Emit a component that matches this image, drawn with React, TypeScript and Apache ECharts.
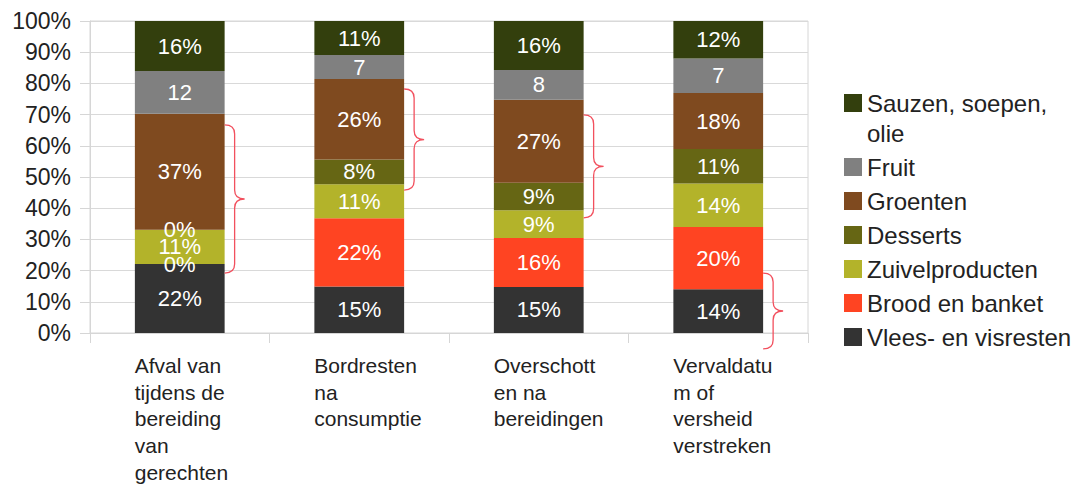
import React, { useEffect, useRef } from 'react';
import * as echarts from 'echarts';

// ---- data ----
const categories = [
  'Afval van\ntijdens de\nbereiding\nvan\ngerechten',
  'Bordresten\nna\nconsumptie',
  'Overschott\nen na\nbereidingen',
  'Vervaldatu\nm of\nversheid\nverstreken',
];
const seriesNames = [
  'Vlees- en visresten',
  'Brood en banket',
  'Zuivelproducten',
  'Desserts',
  'Groenten',
  'Fruit',
  'Sauzen, soepen,\nolie',
];
const vlees = [22, 15, 15, 14];
const brood = [0, 22, 16, 20];
const zuivel = [11, 11, 9, 14];
const desserts = [0, 8, 9, 11];
const groenten = [37, 26, 27, 18];
const fruitShare = [13.6, 7.7, 9.7, 11.1];
const fruitLabels = [12, 7, 8, 7];
const sauzen = [16, 11, 16, 12];
const seriesValues = [vlees, brood, zuivel, desserts, groenten, fruitShare, sauzen];
const colors = ['#333333', '#ff4422', '#b3b32a', '#666614', '#7f4a1f', '#808080', '#333f0d'];
// annotation braces: category index, top %, bottom %
const braceCats = [0, 1, 2, 3];
const braceTops = [66.7, 78.2, 69.9, 19.2];
const braceBottoms = [19.2, 45.8, 36.9, -5.1];

const FONT = '"Liberation Sans", Arial, Helvetica, sans-serif';

const Brace = echarts.graphic.extendShape({
  shape: { x0: 0, xv: 0, xt: 0, y1: 0, ym: 0, y2: 0, r: 8 },
  buildPath(ctx: any, s: any) {
    ctx.moveTo(s.x0, s.y1);
    ctx.quadraticCurveTo(s.xv, s.y1, s.xv, s.y1 + s.r);
    ctx.lineTo(s.xv, s.ym - s.r);
    ctx.quadraticCurveTo(s.xv, s.ym, s.xt, s.ym);
    ctx.quadraticCurveTo(s.xv, s.ym, s.xv, s.ym + s.r);
    ctx.lineTo(s.xv, s.y2 - s.r);
    ctx.quadraticCurveTo(s.xv, s.y2, s.x0, s.y2);
  },
});
echarts.graphic.registerShape('brace', Brace);

export default function App() {
  const ref = useRef<HTMLDivElement>(null);
  useEffect(() => {
    if (!ref.current) return;
    const chart = echarts.init(ref.current, undefined, { renderer: 'svg' });
    const totals = categories.map((_, i) => seriesValues.reduce((a, s) => a + s[i], 0));
    const series = seriesNames.map((name, si) => ({
      name,
      type: 'bar',
      stack: 'total',
      barWidth: '50%',
      itemStyle: { color: colors[si] },
      data: seriesValues[si].map((v, i) => (v / totals[i]) * 100),
      label: {
        show: true,
        position: 'inside',
        color: '#ffffff',
        fontSize: 22,
        fontFamily: FONT,
        formatter: (p: any) =>
          si === 5 ? String(fruitLabels[p.dataIndex]) : `${seriesValues[si][p.dataIndex]}%`,
      },
    }));
    const legendData = seriesNames.slice().reverse();
    chart.setOption({
      animation: false,
      grid: {
        left: 90,
        right: 271,
        top: 21,
        bottom: 154,
        show: true,
        borderColor: '#d6d6d6',
        borderWidth: 1,
        containLabel: false,
      },
      legend: {
        orient: 'vertical',
        left: 844,
        top: 58,
        padding: 0,
        itemGap: 4,
        itemWidth: 18,
        itemHeight: 18,
        itemStyle: { borderWidth: 0 },
        icon: 'rect',
        formatter: (name: string) => (name.indexOf('\n') >= 0 ? '\n' + name : name),
        textStyle: { fontSize: 24, lineHeight: 30, color: '#222', fontFamily: FONT },
        data: legendData,
      },
      xAxis: {
        type: 'category',
        data: categories,
        axisLine: { show: true, lineStyle: { color: '#d6d6d6' } },
        axisTick: { show: true, length: 10, lineStyle: { color: '#d6d6d6' } },
        axisLabel: {
          interval: 0,
          margin: 19,
          width: 90,
          formatter: (v: string) =>
            v
              .split('\n')
              .map((l) => `{a|${l}}`)
              .join('\n'),
          rich: {
            a: {
              align: 'left',
              fontSize: 21,
              lineHeight: 26.7,
              color: '#222',
              fontFamily: FONT,
            },
          },
        },
      },
      yAxis: {
        type: 'value',
        min: 0,
        max: 100,
        interval: 10,
        axisLine: { show: true, lineStyle: { color: '#d6d6d6' } },
        axisTick: { show: true, length: 10, lineStyle: { color: '#d6d6d6' } },
        splitLine: { show: true, lineStyle: { color: '#d9d9d9' } },
        axisLabel: {
          formatter: '{value}%',
          fontSize: 23,
          margin: 19,
          color: '#222',
          fontFamily: FONT,
        },
      },
      series,
    });

    const p0 = chart.convertToPixel({ gridIndex: 0 }, [0, 0]) as number[];
    const p1 = chart.convertToPixel({ gridIndex: 0 }, [1, 0]) as number[];
    const half = (p1[0] - p0[0]) * 0.25;
    const graphics = braceCats.map((c, i) => {
      const top = chart.convertToPixel({ gridIndex: 0 }, [c, braceTops[i]]) as number[];
      const bot = chart.convertToPixel({ gridIndex: 0 }, [c, braceBottoms[i]]) as number[];
      const x0 = top[0] + half;
      return {
        type: 'brace',
        z: 100,
        shape: {
          x0,
          xv: x0 + 10,
          xt: x0 + 20,
          y1: top[1],
          ym: (top[1] + bot[1]) / 2,
          y2: bot[1],
          r: 9,
        },
        style: { stroke: '#f2505e', fill: 'none', lineWidth: 1.3 },
      };
    });
    chart.setOption({ graphic: graphics });

    return () => chart.dispose();
  }, []);
  return (
    <div
      ref={ref}
      style={{ position: 'absolute', left: 0, top: 0, width: 1079, height: 487, background: '#fff' }}
    />
  );
}
